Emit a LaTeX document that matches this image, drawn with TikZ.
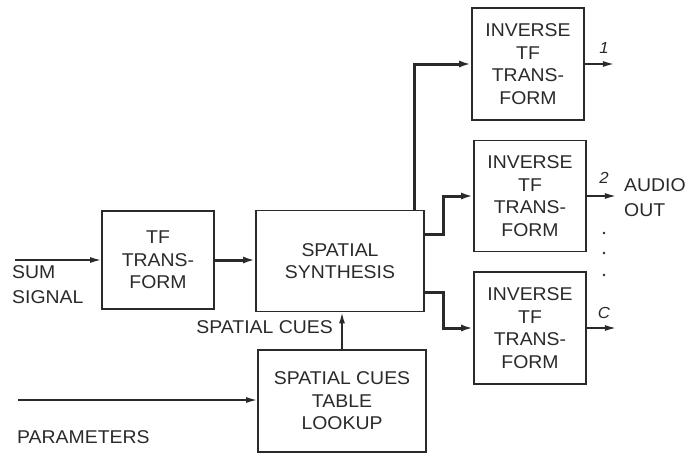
\documentclass[tikz,border=0pt]{standalone}
\usepackage{fontspec}
\setmainfont[FakeStretch=1.05]{Liberation Sans}
\usetikzlibrary{arrows.meta,calc}
\definecolor{ink}{HTML}{2A2A2A}
\tikzset{
  blk/.style={draw=ink, line width=1.8pt, rectangle, align=center, text=ink,
    font=\fontsize{18.5}{22.5}\selectfont, inner sep=0pt},
  lbl/.style={text=ink, font=\fontsize{18.5}{25}\selectfont, inner sep=0pt, align=left},
  num/.style={text=ink, font=\fontsize{16}{18}\selectfont\itshape, inner sep=0pt},
  thin/.style={draw=ink, line width=1.5pt, -{Latex[length=11pt,width=6pt]}},
  thick/.style={draw=ink, line width=3pt, -{Latex[length=12pt,width=7pt]}},
}
\begin{document}
\begin{tikzpicture}[x=1pt,y=-1pt]
\useasboundingbox (0,0) rectangle (687,453);
% blocks
\node[blk, minimum width=112pt, minimum height=98pt] (tf) at (158,260) {TF\\TRANS-\\FORM};
\node[blk, minimum width=168pt, minimum height=101pt] (ss) at (340,261) {SPATIAL\\SYNTHESIS};
\node[blk, minimum width=112pt, minimum height=112pt] (inv1) at (528,64) {INVERSE\\TF\\TRANS-\\FORM};
\node[blk, minimum width=112pt, minimum height=111pt] (inv2) at (530,196) {INVERSE\\TF\\TRANS-\\FORM};
\node[blk, minimum width=112pt, minimum height=112pt] (inv3) at (530,328) {INVERSE\\TF\\TRANS-\\FORM};
\node[blk, minimum width=168pt, minimum height=102pt] (lut) at (342,401) {SPATIAL CUES\\TABLE\\LOOKUP};
% coordinates
\coordinate (sumin) at (15,260);
\coordinate (parin) at (18,400);
% connectors
\draw[thin] (sumin) -- (sumin -| tf.west);
\draw[thick] (tf.east) -- (tf.east -| ss.west);
\draw[thick] ([xshift=-10pt]ss.north east) |- (inv1.west);
\draw[thick] ([yshift=-25pt]ss.north east) -- ++(19,0) |- (inv2.west);
\draw[thick] ([yshift=20pt]ss.south east) -- ++(19,0) |- (inv3.west);
\draw[thin] (inv1.east) -- ++(29,0) coordinate (o1);
\draw[thin] (inv2.east) -- ++(29,0) coordinate (o2);
\draw[thin] (inv3.east) -- ++(29,0) coordinate (o3);
\draw[thin] (lut.north) -- (lut.north |- ss.south);
\draw[thin] (parin) -- (parin -| lut.west);
% labels
\node[lbl, anchor=west] (sumlbl) at (12,285) {SUM\\SIGNAL};
\node[lbl, anchor=east] (cueslbl) at (333,327) {SPATIAL CUES};
\node[lbl, anchor=west] (parlbl) at (17,437) {PARAMETERS};
\node[lbl, anchor=west] (audio) at (624,198) {AUDIO\\OUT};
\node[num] (n1) at (604,48) {1};
\node[num] (n2) at (604,178) {2};
\node[num] (nc) at (604,313) {C};
\fill[ink] (604,233) circle (1.4) (604,253) circle (1.4) (604,275) circle (1.4);
\end{tikzpicture}
\end{document}
